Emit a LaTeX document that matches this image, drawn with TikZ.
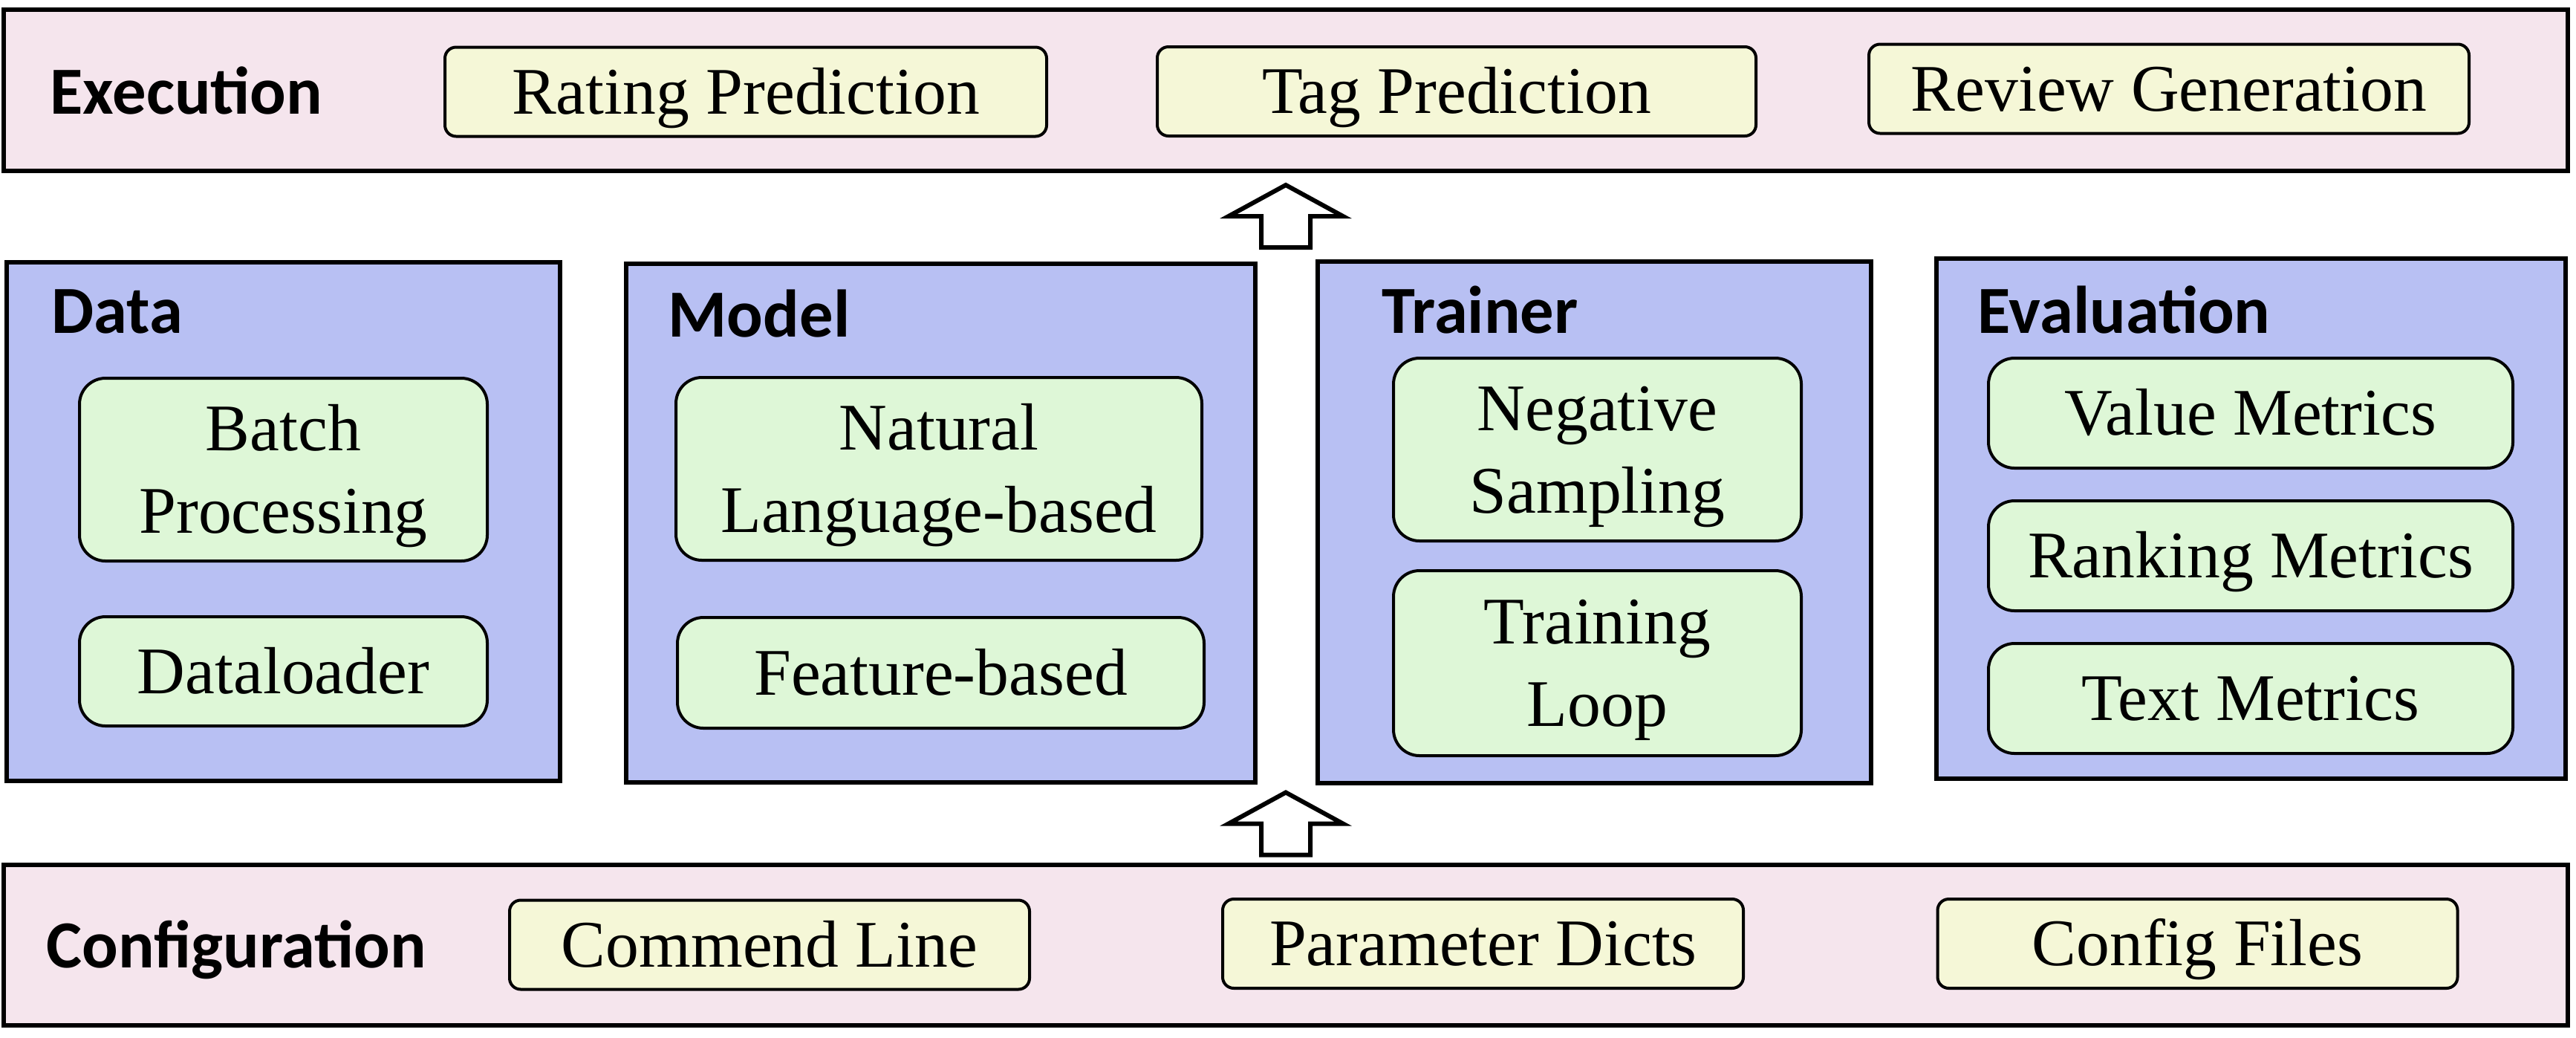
\documentclass[tikz,border=0pt]{standalone}
\usepackage{fontspec}
\setmainfont{Liberation Serif}
\newfontfamily\headfont{Carlito}
\usetikzlibrary{calc}
\definecolor{stage}{RGB}{245,229,237}
\definecolor{module}{RGB}{184,192,243}
\definecolor{part}{RGB}{222,247,215}
\definecolor{task}{RGB}{245,247,215}
\tikzset{
  stagebox/.style={draw, line width=0.06cm, fill=stage, inner sep=0pt, minimum width=34.52cm, minimum height=2.17cm},
  modulebox/.style={draw, line width=0.06cm, fill=module, inner sep=0pt, minimum height=7cm},
  taskbox/.style={draw, line width=0.04cm, fill=task, rounded corners=0.15cm, inner sep=0pt, minimum height=1.2cm, text height=18.6pt, text depth=1.8pt, font=\fontsize{25.5}{31.5}\selectfont},
  partbox/.style={draw, line width=0.04cm, fill=part, rounded corners=0.35cm, inner sep=0pt, align=center, font=\fontsize{25.5}{31.5}\selectfont},
  oneline/.style={partbox, text height=18.6pt, text depth=1.8pt},
  twoline/.style={partbox, text height=50.2pt, text depth=1.8pt},
  headlabel/.style={anchor=base west, inner sep=0pt, font=\headfont\bfseries\fontsize{25.8}{30}\selectfont},
  hollowup/.pic={\draw[line width=0.06cm, fill=white] (-0.33,-0.42) -- (-0.33,0) -- (-0.77,0) -- (0,0.42) -- (0.77,0) -- (0.33,0) -- (0.33,-0.42) -- cycle;}
}

\begin{document}
\begin{tikzpicture}
    \useasboundingbox (0,0) rectangle (34.68,-13.96);

    \node[stagebox] (exec) at (17.31,-1.215) {};
    \node[stagebox, minimum height=2.16cm] (conf) at (17.31,-12.72) {};
    \node[modulebox, minimum width=7.45cm, minimum height=6.98cm] (data) at (3.815,-7.02) {};
    \node[modulebox, minimum width=8.47cm, minimum height=6.98cm] (model) at (12.665,-7.04) {};
    \node[modulebox, minimum width=7.45cm, minimum height=7.02cm] (trainer) at (21.465,-7.03) {};
    \node[modulebox, minimum width=8.47cm] (eval) at (30.305,-6.98) {};

    \node[headlabel] (exectitle) at (0.67,-1.53) {Execution};
    \node[headlabel] (conftitle) at (0.62,-13.02) {Configuration};
    \node[headlabel] (datatitle) at (0.69,-4.48) {Data};
    \node[headlabel] (modeltitle) at (8.99,-4.53) {Model};
    \node[headlabel] (trainertitle) at (18.60,-4.48) {Trainer};
    \node[headlabel] (evaltitle) at (26.62,-4.48) {Evaluation};

    \node[taskbox, minimum width=8.1cm] (rating) at (10.04,-1.235) {Rating Prediction};
    \node[taskbox, minimum width=8.06cm] (tag) at (19.61,-1.23) {Tag Prediction};
    \node[taskbox, minimum width=8.08cm] (review) at (29.2,-1.195) {Review Generation};

    \node[taskbox, minimum width=7cm] (cmdline) at (10.36,-12.715) {Commend Line};
    \node[taskbox, minimum width=7.01cm] (paramdict) at (19.965,-12.70) {Parameter Dicts};
    \node[taskbox, minimum width=7cm] (conffile) at (29.585,-12.70) {Config Files};

    \node[twoline, minimum width=5.49cm, minimum height=2.46cm] (batch) at (3.815,-6.32) {Batch\\Processing};
    \node[oneline, minimum width=5.49cm, minimum height=1.47cm] (loader) at (3.815,-9.035) {Dataloader};
    \node[twoline, minimum width=7.08cm, minimum height=2.46cm] (nlmodel) at (12.64,-6.31) {Natural\\Language-based};
    \node[oneline, minimum width=7.09cm, minimum height=1.49cm] (featmodel) at (12.665,-9.055) {Feature-based};
    \node[twoline, minimum width=5.49cm, minimum height=2.46cm] (negsample) at (21.505,-6.05) {Negative\\Sampling};
    \node[twoline, minimum width=5.49cm, minimum height=2.49cm] (trainloop) at (21.505,-8.925) {Training\\Loop};
    \node[oneline, minimum width=7.06cm, minimum height=1.48cm] (valuemetric) at (30.3,-5.56) {Value Metrics};
    \node[oneline, minimum width=7.06cm, minimum height=1.48cm] (rankmetric) at (30.3,-7.48) {Ranking Metrics};
    \node[oneline, minimum width=7.06cm, minimum height=1.48cm] (textmetric) at (30.3,-9.4) {Text Metrics};

    \pic at ($(exec.south)!0.5!(exec.south |- trainer.north)$) {hollowup};
    \pic at ($(conf.north)!0.5!(conf.north |- model.south)$) {hollowup};
\end{tikzpicture}
\end{document}
